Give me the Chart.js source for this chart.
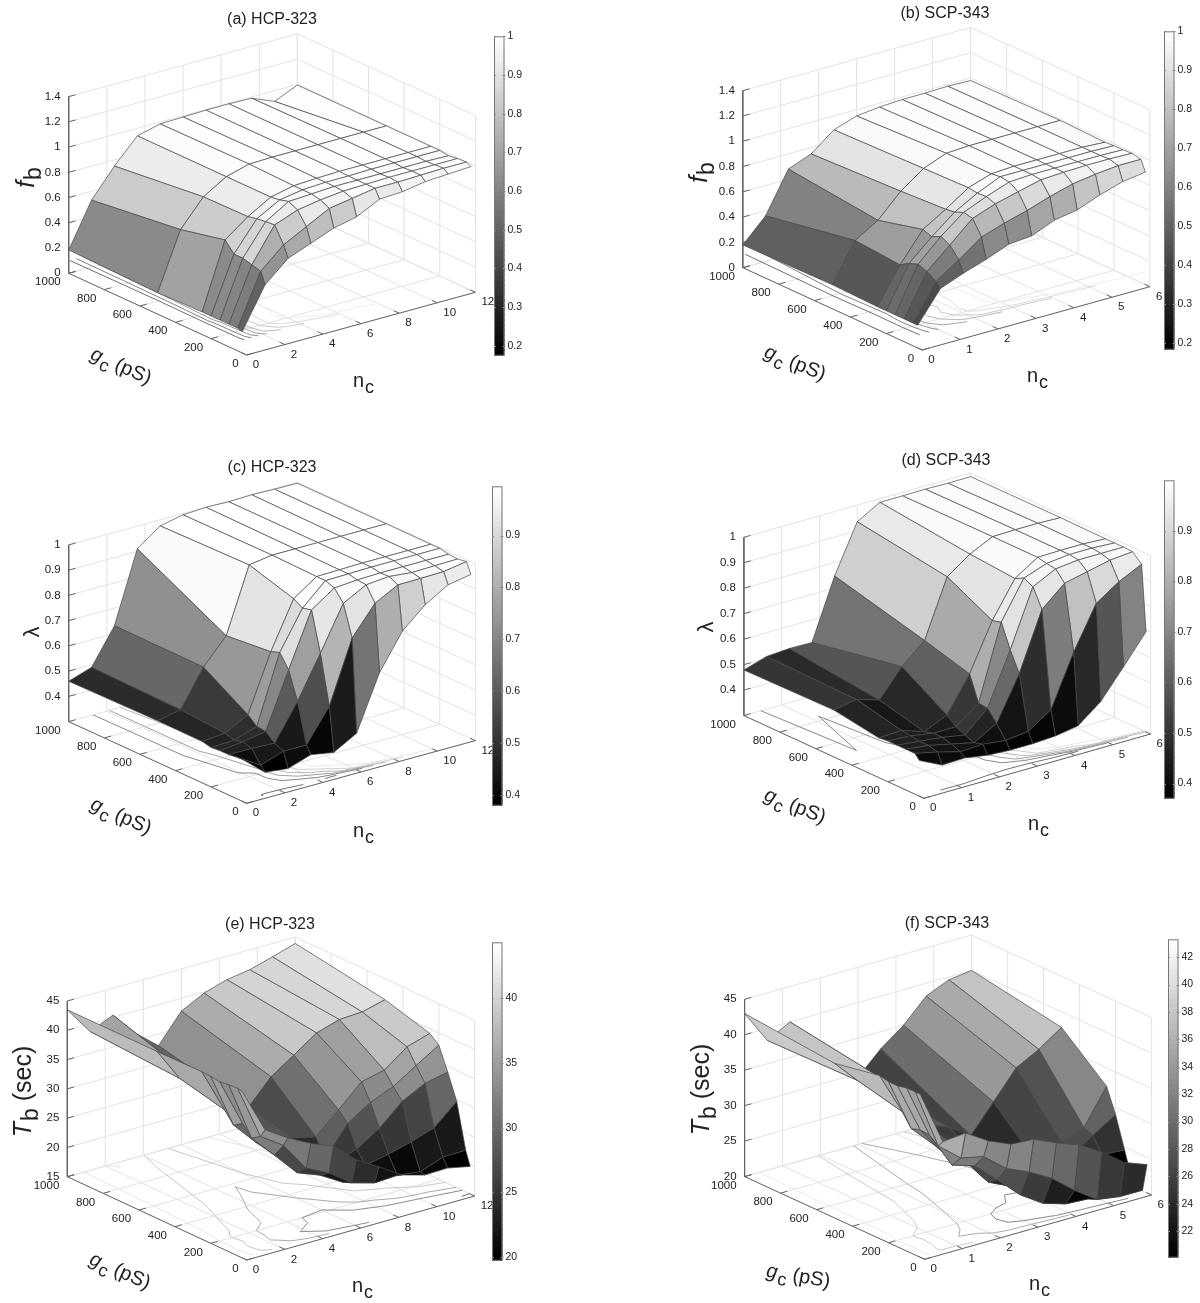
<!DOCTYPE html>
<html>
<head>
<meta charset="utf-8">
<title>Surface plots</title>
<script src="https://cdn.jsdelivr.net/npm/chart.js@4"></script>
<style>
  body { margin: 0; background: #fff; }
  canvas { position: absolute; }
</style>
</head>
<body>
<canvas id="main" width="1200" height="1303" style="left:0;top:0"></canvas>
<script>
// grid of the simulations
const gcGrid = [1000, 500, 250, 200, 150, 100, 50, 25];
const ncHcp = [0, 1.2, 2.4, 3.6, 4.8, 6, 7.2, 8.4, 9.6, 10.8, 12];
const ncScp = [0, 0.6, 1.2, 1.8, 2.4, 3, 3.6, 4.2, 4.8, 5.4, 6];

// tick labels
const gcTicks = [0, 200, 400, 600, 800, 1000];
const ncTicksHcp = [0, 2, 4, 6, 8, 10, 12];
const ncTicksScp = [0, 1, 2, 3, 4, 5, 6];
const fbTicks = [0, 0.2, 0.4, 0.6, 0.8, 1, 1.2, 1.4];
const lambdaTicks = [0.4, 0.5, 0.6, 0.7, 0.8, 0.9, 1];
const tbTicksHcp = [15, 20, 25, 30, 35, 40, 45];
const tbTicksScp = [20, 25, 30, 35, 40, 45];
const barFb = [0.2, 0.3, 0.4, 0.5, 0.6, 0.7, 0.8, 0.9, 1];
const barLambda = [0.4, 0.5, 0.6, 0.7, 0.8, 0.9];
const barTbHcp = [20, 25, 30, 35, 40];
const barTbScp = [22, 24, 26, 28, 30, 32, 34, 36, 38, 40, 42];

// values, one row per gc, one column per nc
const fbHcp = [
  [.185, .53, .75, .94, .985, .99, .995, .995, .99, .915, .995],
  [.17, .62, .83, .94, .99, .995, .995, .995, .995, .995, .995],
  [.18, .70, .835, .94, .98, .99, .995, .995, .995, .995, .995],
  [.18, .62, .85, .95, .98, .99, .99, .995, .995, .995, .995],
  [.18, .62, .86, .97, .98, .99, .99, .99, .99, .99, .985],
  [.18, .60, .866, .935, .965, .985, .99, .995, .995, .995, .995],
  [.18, .58, .74, .835, .93, .96, .99, .99, .995, 1, 1],
  [.17, .49, .65, .72, .79, .83, .92, .93, .96, .97, .98]
];
const fbScp = [
  [.18, .36, .68, .75, .89, .95, .97, .98, .98, .985, .98],
  [.19, .49, .60, .78, .91, .98, .99, .99, .99, .99, .99],
  [.18, .46, .69, .80, .92, .98, .99, .99, .99, .99, .98],
  [.18, .505, .665, .81, .91, .99, .99, .99, .99, .99, .985],
  [.18, .53, .70, .84, .915, .98, .99, .99, .99, .99, .985],
  [.18, .505, .665, .825, .89, .936, .98, .99, .995, .995, .99],
  [.18, .46, .58, .71, .77, .82, .88, .93, .957, .975, .975],
  [.18, .42, .49, .55, .62, .635, .71, .74, .81, .865, .89]
];
const lambdaHcp = [
  [.46, .49, .63, .91, .976, .995, 1, .997, 1, .997, .996],
  [.465, .484, .628, .727, .983, .997, .997, .997, .997, .997, .997],
  [.464, .472, .52, .745, .93, .993, .995, .997, .997, .997, .997],
  [.456, .46, .49, .758, .909, .993, .995, .997, .997, .997, .997],
  [.46, .47, .486, .705, .918, .98, .987, .99, .99, .99, .99],
  [.46, .46, .456, .596, .762, .935, .984, .992, .983, .985, .987],
  [.465, .41, .44, .44, .568, .814, .927, .975, .976, .978, .993],
  [.466, .39, .38, .41, .394, .445, .66, .80, .88, .934, .95]
];
const lambdaScp = [
  [.479, .507, .513, .511, .747, .935, .986, .986, .987, .985, .986],
  [.484, .50, .473, .579, .656, .881, .945, .988, .99, .99, .987],
  [.456, .46, .43, .47, .606, .79, .93, .988, .99, .99, .985],
  [.46, .455, .44, .44, .507, .80, .948, .98, .99, .99, .985],
  [.46, .45, .44, .424, .504, .707, .93, .975, .985, .985, .985],
  [.46, .45, .43, .41, .46, .63, .857, .935, .955, .975, .983],
  [.46, .44, .416, .42, .41, .42, .48, .68, .847, .907, .95],
  [.44, .397, .40, .385, .38, .38, .385, .40, .47, .58, .694]
];
const tbHcp = [
  [43.5, 38.7, 40.4, 36.2, 33, 37.8, 39.8, 41, 41.6, 42.7, 43.9],
  [43.5, 37.8, 35.5, 31, 29.5, 33.7, 36.3, 39, 40.2, 40.4, 41.4],
  [43.6, 36, 31.5, 29, 27.9, 27, 30.5, 34.2, 35.1, 38, 39.2],
  [43.5, 34.1, 30, 28, 25, 24, 28.9, 31.4, 33, 35.5, 37.9],
  [43.3, 35.1, 29.7, 28, 24.5, 24, 25.2, 27.7, 31.2, 33.2, 34],
  [43.5, 33.3, 29.3, 25.2, 23.7, 21.4, 23.2, 24, 25, 26.3, 29.7],
  [43.6, 34.3, 31.7, 26.7, 24.8, 22, 20.9, 21.1, 20.6, 22, 22.1],
  [43.4, 35.8, 33.3, 31.3, 29.7, 26.3, 24, 21.5, 20.4, 20.5, 19.7]
];
const tbScp = [
  [43, 38.3, 40, 36, 32, 29.5, 32.6, 35, 38.2, 39.6, 40],
  [41.8, 38.5, 38, 33, 29.5, 28.3, 26.2, 30, 33.9, 35.6, 37.8],
  [43, 37, 34, 30.4, 28, 25.5, 24.6, 24, 26.4, 27.5, 32.4],
  [42.7, 35.2, 32, 30, 26, 24, 24, 23.5, 25, 27, 29],
  [42.7, 35.6, 31.5, 29.5, 25.5, 24, 23, 22.5, 23, 24.8, 24.6],
  [43, 35.5, 30.3, 29.3, 26.4, 23.4, 21.3, 20.3, 20.1, 20.1, 20.1],
  [43, 34.5, 31.9, 31.2, 28.6, 27.2, 25.4, 22.8, 20.6, 20.1, 20.1],
  [43, 35.4, 35.7, 33.7, 32.3, 32.1, 30.7, 29.5, 27.6, 25.2, 24]
];

// contour levels on the floor
const levelsFb = [0.2, 0.3, 0.4, 0.5, 0.6, 0.7, 0.8, 0.9];
const levelsLambda = [0.4, 0.5, 0.6, 0.7, 0.8, 0.9];
const levelsTb = [20, 25, 30, 35, 40];

const gcMax = 1000;

// each panel: box in page pixels (o = origin corner, u = along nc, v = along gc, h = height)
const panels = [
  { title: '(a) HCP-323', z: fbHcp, nc: ncHcp, ncTicks: ncTicksHcp, zTicks: fbTicks, zMin: 0, zMax: 1.4, floorZ: 0.1, levels: levelsFb,
    o: [246.7, 355], u: [228.7, -62.7], v: [-178, -81.7], h: 176.7, cMin: 0.174, cMax: 1, barTicks: barFb, bar: [494, 35, 10.5, 322],
    titleAt: [272, 20], nameAt: [25, 178], gcAt: [121, 365, 24], ncAt: [363, 380], name: ['f', 'b', ''] },
  { title: '(b) SCP-343', z: fbScp, nc: ncScp, ncTicks: ncTicksScp, zTicks: fbTicks, zMin: 0, zMax: 1.4, floorZ: 0.1, levels: levelsFb,
    o: [922.2, 350], u: [227.7, -63.3], v: [-179.4, -82.3], h: 177, cMin: 0.182, cMax: 1, barTicks: barFb, bar: [1164, 30, 10.5, 321],
    titleAt: [945, 14], nameAt: [698, 173], gcAt: [795, 362, 22], ncAt: [1037, 375], name: ['f', 'b', ''] },
  { title: '(c) HCP-323', z: lambdaHcp, nc: ncHcp, ncTicks: ncTicksHcp, zTicks: lambdaTicks, zMin: 0.3, zMax: 1, floorZ: 0.3, levels: levelsLambda,
    o: [246.7, 803.3], u: [228.7, -62.7], v: [-178, -81.7], h: 176.7, cMin: 0.379, cMax: 0.995, barTicks: barLambda, bar: [491.6, 485, 10.5, 322],
    titleAt: [272, 468], nameAt: [31, 632], gcAt: [121, 815, 24], ncAt: [363, 830], name: ['\u03bb', '', ''] },
  { title: '(d) SCP-343', z: lambdaScp, nc: ncScp, ncTicks: ncTicksScp, zTicks: lambdaTicks, zMin: 0.3, zMax: 1, floorZ: 0.3, levels: levelsLambda,
    o: [923.9, 798.3], u: [226.7, -64.3], v: [-180, -82.7], h: 178.3, cMin: 0.37, cMax: 1, barTicks: barLambda, bar: [1164, 479, 10.5, 321],
    titleAt: [946, 461], nameAt: [705, 627], gcAt: [795, 805, 22], ncAt: [1038, 823], name: ['\u03bb', '', ''] },
  { title: '(e) HCP-323', z: tbHcp, nc: ncHcp, ncTicks: ncTicksHcp, zTicks: tbTicksHcp, zMin: 15, zMax: 45, floorZ: 15, levels: levelsTb,
    o: [246.7, 1260], u: [228, -64], v: [-179.4, -83.3], h: 175.7, cMin: 19.7, cMax: 44.35, barTicks: barTbHcp, bar: [492, 941, 10.5, 321],
    titleAt: [270, 925], nameAt: [22, 1092], gcAt: [120, 1270, 24], ncAt: [362, 1285], name: ['T', 'b', ' (sec)'] },
  { title: '(f) SCP-343', z: tbScp, nc: ncScp, ncTicks: ncTicksScp, zTicks: tbTicksScp, zMin: 20, zMax: 45, floorZ: 20, levels: levelsTb,
    o: [924.6, 1259.3], u: [227, -64.3], v: [-180, -82.7], h: 177.3, cMin: 20.07, cMax: 43.3, barTicks: barTbScp, bar: [1168, 938, 10.5, 321],
    titleAt: [947, 924], nameAt: [700, 1090], gcAt: [798, 1275, 10], ncAt: [1039, 1283], name: ['T', 'b', ' (sec)'] }
];

const FONT = '"Liberation Sans", Arial, sans-serif';

function project(p, nc, gc, z) {
  const a = nc / p.nc[p.nc.length - 1];
  const b = gc / gcMax;
  const c = (z - p.zMin) / (p.zMax - p.zMin);
  return { x: p.o[0] + a * p.u[0] + b * p.v[0], y: p.o[1] + a * p.u[1] + b * p.v[1] - c * p.h };
}

function shade(p, value) {
  const t = (value - p.cMin) / (p.cMax - p.cMin);
  return Math.round(Math.max(0, Math.min(1, t)) * 255);
}

function grey(g) {
  return 'rgb(' + g + ',' + g + ',' + g + ')';
}

function line(points, color, width) {
  return { type: 'scatter', data: points, showLine: true, spanGaps: false, pointRadius: 0, borderColor: color, borderWidth: width, tension: 0, clip: false };
}

// walls and floor of the box, axes and their ticks
function boxDatasets(p) {
  const out = [];
  const ncEnd = p.nc[p.nc.length - 1];
  const gridColor = '#e2e2e2';
  p.ncTicks.forEach(n => {
    out.push(line([project(p, n, 0, p.zMin), project(p, n, gcMax, p.zMin), project(p, n, gcMax, p.zMax)], gridColor, 1));
  });
  gcTicks.forEach(g => {
    out.push(line([project(p, 0, g, p.zMin), project(p, ncEnd, g, p.zMin), project(p, ncEnd, g, p.zMax)], gridColor, 1));
  });
  p.zTicks.forEach(z => {
    out.push(line([project(p, 0, gcMax, z), project(p, ncEnd, gcMax, z), project(p, ncEnd, 0, z)], gridColor, 1));
  });
  const axisColor = '#666';
  out.push(line([project(p, 0, gcMax, p.zMax), project(p, 0, gcMax, p.zMin), project(p, 0, 0, p.zMin), project(p, ncEnd, 0, p.zMin)], axisColor, 1));
  p.zTicks.forEach(z => {
    out.push(line([project(p, 0, gcMax, z), project(p, ncEnd * 0.03, gcMax, z)], axisColor, 1));
  });
  gcTicks.forEach(g => {
    out.push(line([project(p, 0, g, p.zMin), project(p, ncEnd * 0.03, g, p.zMin)], axisColor, 1));
  });
  p.ncTicks.forEach(n => {
    out.push(line([project(p, n, 0, p.zMin), project(p, n, gcMax * 0.03, p.zMin)], axisColor, 1));
  });
  return out;
}

// marching squares over the grid, one dataset per level
function contourDatasets(p) {
  return p.levels.map(level => {
    const pts = [];
    for (let i = 0; i < gcGrid.length - 1; i++) {
      for (let j = 0; j < p.nc.length - 1; j++) {
        const corners = [[i, j], [i, j + 1], [i + 1, j + 1], [i + 1, j]];
        const cuts = [];
        for (let k = 0; k < 4; k++) {
          const [r1, c1] = corners[k];
          const [r2, c2] = corners[(k + 1) % 4];
          const v1 = p.z[r1][c1];
          const v2 = p.z[r2][c2];
          if ((v1 < level) !== (v2 < level)) {
            const t = (level - v1) / (v2 - v1);
            cuts.push(project(p, p.nc[c1] + t * (p.nc[c2] - p.nc[c1]), gcGrid[r1] + t * (gcGrid[r2] - gcGrid[r1]), p.floorZ));
          }
        }
        for (let k = 0; k + 1 < cuts.length; k += 2) {
          pts.push(cuts[k], cuts[k + 1], { x: null, y: null });
        }
      }
    }
    // thin lines read paler than the colormap in the original
    return line(pts, grey(Math.round(90 + 0.65 * shade(p, level))), 0.9);
  });
}

// far cells first so near ones cover them
function surfaceDatasets(p) {
  const out = [];
  for (let i = 0; i < gcGrid.length - 1; i++) {
    for (let j = p.nc.length - 2; j >= 0; j--) {
      const pts = [
        project(p, p.nc[j], gcGrid[i], p.z[i][j]),
        project(p, p.nc[j + 1], gcGrid[i], p.z[i][j + 1]),
        project(p, p.nc[j + 1], gcGrid[i + 1], p.z[i + 1][j + 1]),
        project(p, p.nc[j], gcGrid[i + 1], p.z[i + 1][j])
      ];
      pts.push(pts[0]);
      const ds = line(pts, '#484848', 0.7);
      ds.faceColor = grey(shade(p, p.z[i + 1][j + 1]));
      out.push(ds);
    }
  }
  return out;
}

const quadFill = {
  id: 'quadFill',
  beforeDatasetDraw(chart, args) {
    const ds = chart.data.datasets[args.index];
    if (!ds.faceColor) return;
    const ctx = chart.ctx;
    const els = args.meta.data;
    ctx.save();
    ctx.beginPath();
    els.forEach((el, i) => (i ? ctx.lineTo(el.x, el.y) : ctx.moveTo(el.x, el.y)));
    ctx.closePath();
    ctx.fillStyle = ds.faceColor;
    ctx.fill();
    ctx.restore();
  }
};

// main text, optional subscript, then trailing text
function subText(ctx, x, y, angle, parts, size, italic) {
  ctx.save();
  ctx.translate(x, y);
  ctx.rotate(angle);
  ctx.textBaseline = 'alphabetic';
  ctx.textAlign = 'left';
  const mainFont = (italic ? 'italic ' : '') + size + 'px ' + FONT;
  const subFont = Math.round(size * 0.9) + 'px ' + FONT;
  const trailFont = size + 'px ' + FONT;
  ctx.font = mainFont;
  const w1 = ctx.measureText(parts[0]).width;
  ctx.font = subFont;
  const w2 = ctx.measureText(parts[1]).width;
  ctx.font = trailFont;
  const w3 = ctx.measureText(parts[2]).width;
  let cx = -(w1 + w2 + w3) / 2;
  ctx.font = mainFont;
  ctx.fillText(parts[0], cx, size * 0.35);
  cx += w1 + 1;
  ctx.font = subFont;
  ctx.fillText(parts[1], cx, size * 0.35 + size * 0.3);
  cx += w2;
  ctx.font = trailFont;
  ctx.fillText(parts[2], cx, size * 0.35);
  ctx.restore();
}

const labels = {
  id: 'labels',
  afterDraw(chart) {
    const ctx = chart.ctx;
    const sx = chart.scales.x;
    const sy = chart.scales.y;
    ctx.save();
    ctx.fillStyle = '#222';
    panels.forEach(p => {
      ctx.font = '16px ' + FONT;
      ctx.textAlign = 'center';
      ctx.textBaseline = 'middle';
      ctx.fillText(p.title, sx.getPixelForValue(p.titleAt[0]), sy.getPixelForValue(p.titleAt[1]));

      ctx.font = '11.5px ' + FONT;
      ctx.textAlign = 'right';
      p.zTicks.forEach(z => {
        const q = project(p, 0, gcMax, z);
        ctx.fillText(String(z), sx.getPixelForValue(q.x) - 8, sy.getPixelForValue(q.y));
      });
      gcTicks.forEach(g => {
        const q = project(p, 0, g, p.zMin);
        ctx.fillText(String(g), sx.getPixelForValue(q.x) - 8, sy.getPixelForValue(q.y) + 9);
      });
      ctx.textAlign = 'left';
      p.ncTicks.forEach(n => {
        const q = project(p, n, 0, p.zMin);
        ctx.fillText(String(n), sx.getPixelForValue(q.x) + 6, sy.getPixelForValue(q.y) + 10);
      });

      const isLambda = p.name[0] === '\u03bb';
      subText(ctx, sx.getPixelForValue(p.nameAt[0]), sy.getPixelForValue(p.nameAt[1]), -Math.PI / 2, p.name, isLambda ? 22 : 25, !isLambda);
      subText(ctx, sx.getPixelForValue(p.gcAt[0]), sy.getPixelForValue(p.gcAt[1]), p.gcAt[2] * Math.PI / 180, ['g', 'c', ' (pS)'], 20, true);
      subText(ctx, sx.getPixelForValue(p.ncAt[0]), sy.getPixelForValue(p.ncAt[1]), 0, ['n', 'c', ''], 20, false);
    });
    ctx.restore();
  }
};

const datasets = [];
panels.forEach(p => {
  datasets.push(...boxDatasets(p), ...contourDatasets(p), ...surfaceDatasets(p));
});
// Chart.js paints the last dataset first
datasets.reverse();

new Chart(document.getElementById('main'), {
  type: 'scatter',
  data: { datasets },
  options: {
    responsive: false,
    animation: false,
    layout: { padding: 0 },
    plugins: { legend: { display: false }, tooltip: { enabled: false } },
    scales: {
      x: { type: 'linear', display: false, min: 0, max: 1200 },
      y: { type: 'linear', display: false, min: 0, max: 1303, reverse: true }
    }
  },
  plugins: [quadFill, labels]
});

const barFrame = {
  id: 'barFrame',
  afterDraw(chart) {
    const { ctx, chartArea: a, scales } = chart;
    ctx.save();
    ctx.strokeStyle = '#777';
    ctx.lineWidth = 1;
    ctx.strokeRect(a.left + 0.5, a.top + 0.5, a.right - a.left - 1, a.bottom - a.top - 1);
    scales.y.ticks.forEach(t => {
      const y = Math.round(scales.y.getPixelForValue(t.value)) + 0.5;
      ctx.strokeStyle = '#888';
      ctx.beginPath();
      ctx.moveTo(a.left, y);
      ctx.lineTo(a.left + 2, y);
      ctx.moveTo(a.right - 2, y);
      ctx.lineTo(a.right + 1, y);
      ctx.stroke();
    });
    ctx.restore();
  }
};

// colour bars
panels.forEach(p => {
  const [left, top, w, h] = p.bar;
  const canvas = document.createElement('canvas');
  canvas.width = Math.ceil(w) + 34;
  canvas.height = h + 16;
  canvas.style.left = left + 'px';
  canvas.style.top = (top - 8) + 'px';
  document.body.appendChild(canvas);
  const steps = 64;
  const size = (p.cMax - p.cMin) / steps;
  const bands = [];
  for (let k = 0; k < steps; k++) {
    const lo = p.cMin + k * size;
    bands.push({ data: [[lo, Math.min(p.cMax, lo + size * 1.3)]], backgroundColor: grey(Math.round(k / (steps - 1) * 255)), borderWidth: 0, grouped: false, barPercentage: 1, categoryPercentage: 1 });
  }
  new Chart(canvas, {
    type: 'bar',
    data: { labels: [''], datasets: bands.reverse() },
    options: {
      responsive: false,
      animation: false,
      layout: { padding: { top: 8, bottom: 8, left: 0, right: 0 } },
      plugins: { legend: { display: false }, tooltip: { enabled: false } },
      scales: {
        x: { display: false },
        y: {
          position: 'right',
          min: p.cMin,
          max: p.cMax,
          afterBuildTicks: axis => { axis.ticks = p.barTicks.map(v => ({ value: v })); },
          afterFit: axis => { axis.width = canvas.width - w; },
          grid: { display: false, drawTicks: false },
          border: { display: false },
          ticks: { color: '#222', padding: 3, font: { size: 10.5, family: FONT }, autoSkip: false, callback: v => String(v) }
        }
      }
    },
    plugins: [barFrame]
  });
});
</script>
</body>
</html>
